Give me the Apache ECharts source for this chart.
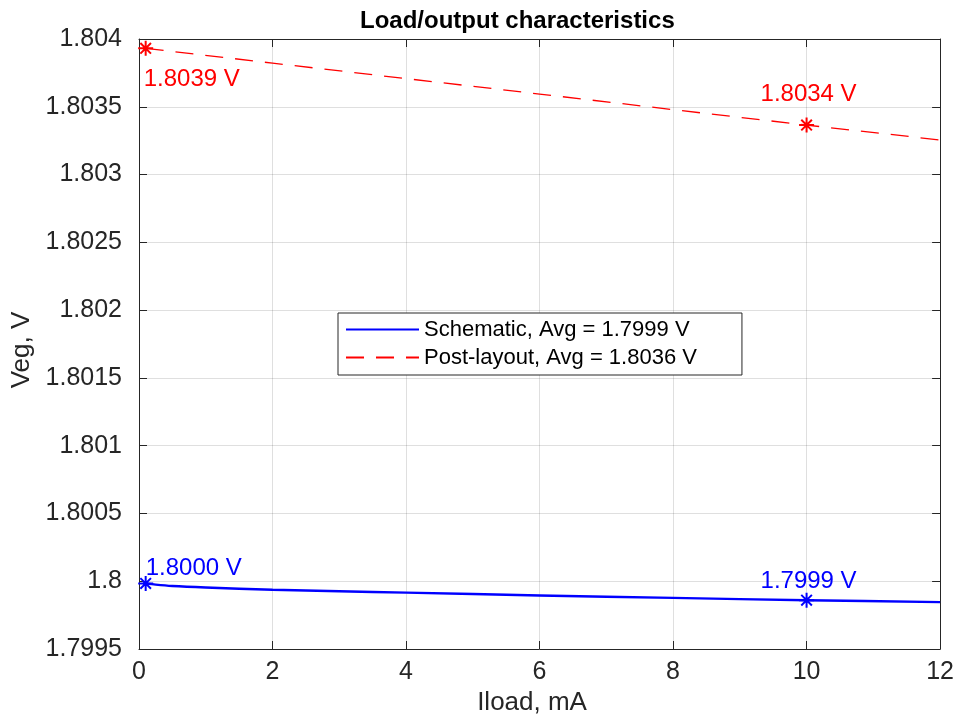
<!DOCTYPE html>
<html>
<head>
<meta charset="utf-8">
<script src="https://cdn.jsdelivr.net/npm/echarts@6/dist/echarts.min.js"></script>
<style>
html,body{margin:0;padding:0;background:#fff;}
#chart{width:957px;height:722px;}
</style>
</head>
<body>
<div id="chart"></div>
<script>
// ---- data ----
var titleText = 'Load/output characteristics';
var xName = 'Iload, mA';
var yName = 'Veg, V';
var schematicName = 'Schematic, Avg = 1.7999 V';
var postName = 'Post-layout, Avg = 1.8036 V';

var schematicX = [0.1, 0.25, 0.5, 1, 2, 3, 4, 6, 8, 10, 12];
var schematicY = [1.799984, 1.799975, 1.799965, 1.799954, 1.799937, 1.799926, 1.799916, 1.799895, 1.799877, 1.799860, 1.799846];

var postX = [0.1, 2, 4, 6, 8, 10, 12];
var postY = [1.803931, 1.803822, 1.803708, 1.803594, 1.803479, 1.803365, 1.803255];

var markerX = [0.1, 10];
var schematicMarkerLabels = ['1.8000 V', '1.7999 V'];
var postMarkerLabels = ['1.8039 V', '1.8034 V'];

var xTicks = {min: 0, max: 12, interval: 2};
var yTicks = {min: 1.7995, max: 1.804, interval: 0.0005};

// ---- build ----
function pairs(xs, ys) { return xs.map(function (x, i) { return [x, ys[i]]; }); }
function pick(xs, ys, x) { return ys[xs.indexOf(x)]; }

var FONT = '"Liberation Sans", Arial, Helvetica, sans-serif';
var AX = '#262626';
var GRIDC = 'rgba(38,38,38,0.15)';
var STAR = 'path://M0,-10L0,10M-10,0L10,0M-7.07,-7.07L7.07,7.07M-7.07,7.07L7.07,-7.07';

function markerSeries(color, xs, ys, labels, offs, aligns) {
  return {
    type: 'scatter',
    name: 'm_' + color,
    symbol: STAR,
    symbolSize: 15,
    z: 5,
    itemStyle: {color: color, borderColor: color, borderWidth: 2, opacity: 1},
    data: markerX.map(function (x, i) {
      return {
        value: [x, pick(xs, ys, x)],
        label: {
          show: true,
          formatter: labels[i],
          position: 'inside',
          align: aligns[i],
          verticalAlign: 'middle',
          offset: offs[i],
          color: color,
          fontSize: 24,
          fontFamily: FONT
        }
      };
    }),
    silent: true,
    animation: false
  };
}

var chart = echarts.init(document.getElementById('chart'), null, {renderer: 'canvas'});

var option = {
  backgroundColor: '#ffffff',
  animation: false,
  title: {
    text: titleText,
    left: 355,
    top: 4,
    textStyle: {fontFamily: FONT, fontSize: 24, fontWeight: 'bold', color: '#000'}
  },
  grid: {left: 139, right: 15, top: 39, bottom: 73, containLabel: false},
  legend: {
    data: [schematicName, postName],
    orient: 'vertical',
    left: 338,
    top: 313,
    itemWidth: 73,
    itemHeight: 14,
    itemGap: 3,
    padding: [4, 45, 5, 7],
    borderColor: AX,
    borderWidth: 1,
    backgroundColor: '#ffffff',
    itemStyle: {opacity: 0},
    textStyle: {fontFamily: FONT, fontSize: 22, color: '#000', lineHeight: 25}
  },
  xAxis: [{
    type: 'value',
    min: xTicks.min, max: xTicks.max, interval: xTicks.interval,
    name: xName,
    nameLocation: 'middle',
    nameGap: 37,
    nameTextStyle: {fontFamily: FONT, fontSize: 26, color: AX, padding: [0, 15, 0, 0]},
    axisLine: {show: true, onZero: false, lineStyle: {color: AX, width: 1}},
    axisTick: {show: true, inside: true, length: 8, lineStyle: {color: AX}},
    axisLabel: {fontFamily: FONT, fontSize: 25, color: AX, margin: 11},
    splitLine: {show: true, lineStyle: {color: GRIDC, width: 1}}
  }, {
    type: 'value', position: 'top',
    min: xTicks.min, max: xTicks.max, interval: xTicks.interval,
    axisLine: {show: true, onZero: false, lineStyle: {color: AX, width: 1}},
    axisTick: {show: true, inside: true, length: 8, lineStyle: {color: AX}},
    axisLabel: {show: false},
    splitLine: {show: false}
  }],
  yAxis: [{
    type: 'value',
    min: yTicks.min, max: yTicks.max, interval: yTicks.interval,
    name: yName,
    nameLocation: 'middle',
    nameGap: 103,
    nameTextStyle: {fontFamily: FONT, fontSize: 26, color: AX, padding: [0, 12, 0, 0]},
    axisLine: {show: true, onZero: false, lineStyle: {color: AX, width: 1}},
    axisTick: {show: true, inside: true, length: 8, lineStyle: {color: AX}},
    axisLabel: {
      fontFamily: FONT, fontSize: 25, color: AX, margin: 17,
      formatter: function (v) { return String(+v.toFixed(4)); }
    },
    splitLine: {show: true, lineStyle: {color: GRIDC, width: 1}}
  }, {
    type: 'value', position: 'right',
    min: yTicks.min, max: yTicks.max, interval: yTicks.interval,
    axisLine: {show: true, onZero: false, lineStyle: {color: AX, width: 1}},
    axisTick: {show: true, inside: true, length: 8, lineStyle: {color: AX}},
    axisLabel: {show: false},
    splitLine: {show: false}
  }],
  series: [{
    type: 'line',
    name: schematicName,
    data: pairs(schematicX, schematicY),
    smooth: 0.3,
    symbol: 'none',
    showSymbol: false,
    lineStyle: {color: '#0000ff', width: 2.4},
    itemStyle: {color: '#0000ff'},
    z: 3
  }, {
    type: 'line',
    name: postName,
    data: pairs(postX, postY),
    symbol: 'none',
    showSymbol: false,
    lineStyle: {color: '#ff0000', width: 1.3, type: [18, 12]},
    itemStyle: {color: '#ff0000'},
    z: 3
  },
  markerSeries('#ff0000', postX, postY, postMarkerLabels, [[-2, 31], [2, -31]], ['left', 'center']),
  markerSeries('#0000ff', schematicX, schematicY, schematicMarkerLabels, [[0, -15], [2, -19]], ['left', 'center'])
  ]
};
chart.setOption(option);
</script>
</body>
</html>
